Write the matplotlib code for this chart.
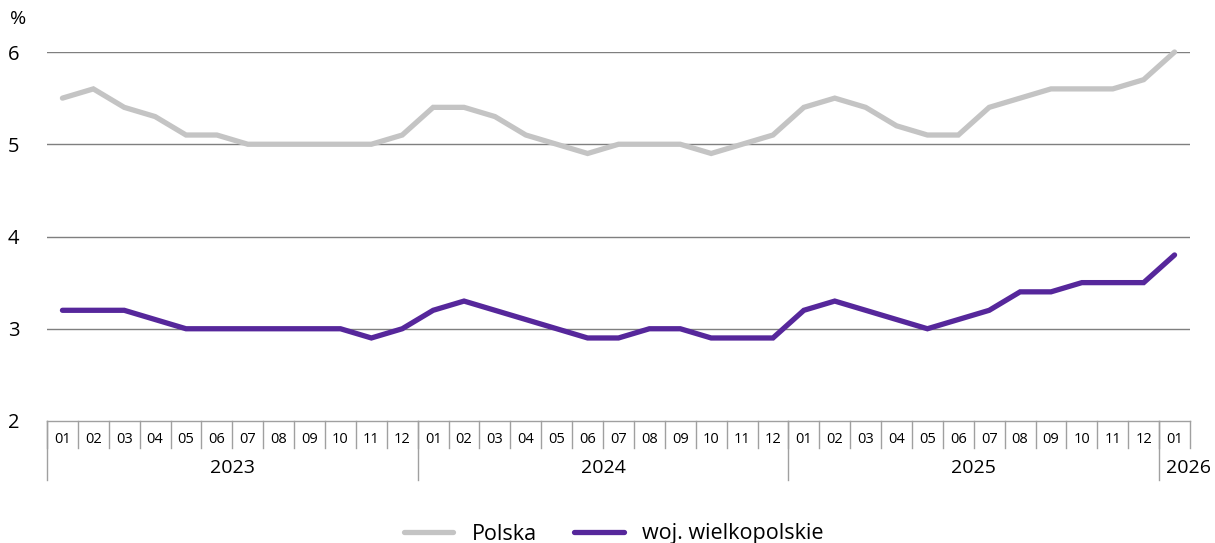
import matplotlib.pyplot as plt
import numpy as np

plt.rcParams['font.family'] = ['Open Sans', 'DejaVu Sans']

# months 2023-01 .. 2026-01
years = ['2023', '2024', '2025', '2026']
year_months = [12, 12, 12, 1]
months = [f'{m:02d}' for m in range(1, 13)] * 3 + ['01']

polska = [5.5, 5.6, 5.4, 5.3, 5.1, 5.1, 5.0, 5.0, 5.0, 5.0, 5.0, 5.1,
          5.4, 5.4, 5.3, 5.1, 5.0, 4.9, 5.0, 5.0, 5.0, 4.9, 5.0, 5.1,
          5.4, 5.5, 5.4, 5.2, 5.1, 5.1, 5.4, 5.5, 5.6, 5.6, 5.6, 5.7,
          6.0]
wielkopolskie = [3.2, 3.2, 3.2, 3.1, 3.0, 3.0, 3.0, 3.0, 3.0, 3.0, 2.9, 3.0,
                 3.2, 3.3, 3.2, 3.1, 3.0, 2.9, 2.9, 3.0, 3.0, 2.9, 2.9, 2.9,
                 3.2, 3.3, 3.2, 3.1, 3.0, 3.1, 3.2, 3.4, 3.4, 3.5, 3.5, 3.5,
                 3.8]

W, H = 1215, 543
fig = plt.figure(figsize=(W / 100, H / 100), dpi=100)
ax = fig.add_axes([47 / W, 1 - 421 / H, (1190 - 47) / W, (421 - 52) / H])

x = np.arange(len(months))
ax.plot(x, polska, color='#c4c4c4', lw=3.8, solid_capstyle='round',
        solid_joinstyle='miter', clip_on=False, label='Polska', zorder=3)
ax.plot(x, wielkopolskie, color='#56279b', lw=3.8, solid_capstyle='round',
        solid_joinstyle='miter', clip_on=False, label='woj. wielkopolskie', zorder=3)

ax.set_xlim(-0.5, len(months) - 0.5)
ax.set_ylim(2, 6)
ax.set_yticks([2, 3, 4, 5, 6])
ax.tick_params(axis='y', length=0, pad=20, labelsize=14.5)
ax.set_xticks([])
for s in ax.spines.values():
    s.set_visible(False)
for v in [3, 4, 5, 6]:
    ax.axhline(v, color='#7f7f7f', lw=1, zorder=1)

# category boxes under the plot
tr = ax.get_xaxis_transform()
ax.plot([-0.5, len(months) - 0.5], [0, 0], transform=tr, color='#a0a0a0',
        lw=1, clip_on=False)
for i, m in enumerate(months):
    ax.text(i, -0.05, m, transform=tr, ha='center', va='center', fontsize=10.5)
    ax.plot([i - 0.5, i - 0.5], [0, -0.073], transform=tr, color='#a0a0a0',
            lw=1, clip_on=False)
ax.plot([len(months) - 0.5] * 2, [0, -0.073], transform=tr, color='#a0a0a0',
        lw=1, clip_on=False)
start = 0
for y, n in zip(years, year_months):
    ax.plot([start - 0.5] * 2, [0, -0.16], transform=tr, color='#a0a0a0',
            lw=1, clip_on=False)
    if n > 1:
        ax.text(start + (n - 1) / 2, -0.127, y, transform=tr, ha='center',
                va='center', fontsize=14)
    else:
        # too narrow a box: label just right of the separator
        ax.text(start - 0.27, -0.127, y, transform=tr, ha='left',
                va='center', fontsize=14)
    start += n

fig.text(18 / W, 1 - 19 / H, '%', ha='center', va='center', fontsize=14)

fig.legend(loc='center', bbox_to_anchor=(0.505, 1 - 534 / H), ncol=2,
           frameon=False, fontsize=15.5, handlelength=2.3, handletextpad=0.85,
           columnspacing=1.75)

fig.savefig('out.png', dpi=100)
